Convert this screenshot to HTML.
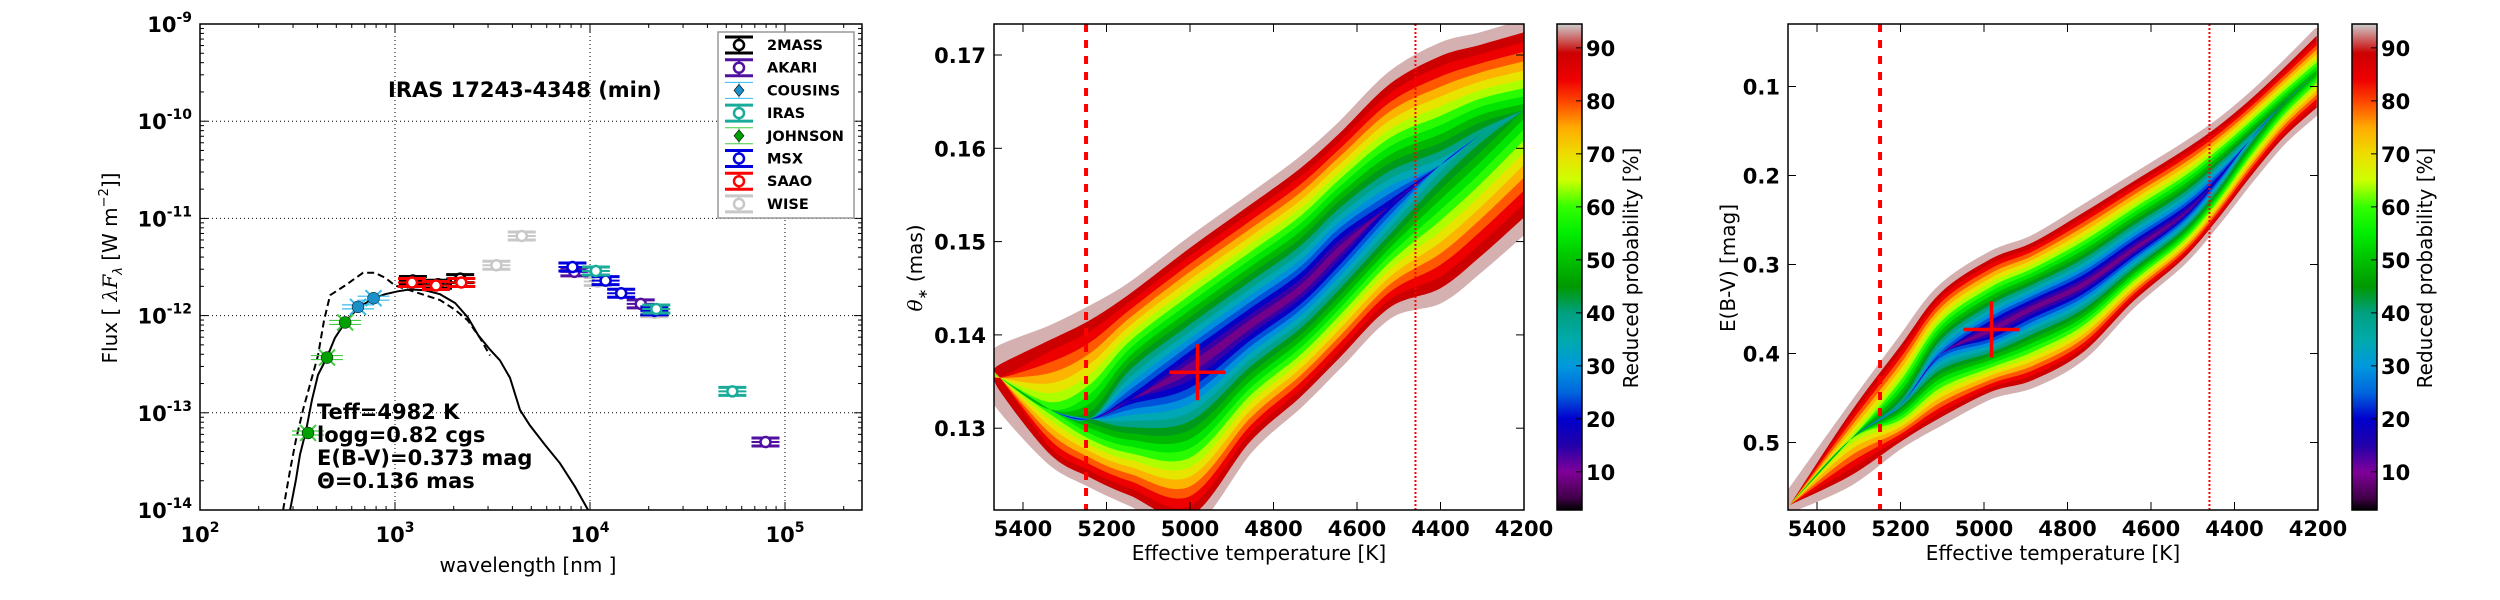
<!DOCTYPE html>
<html><head><meta charset="utf-8"><style>
html,body{margin:0;padding:0;background:#fff;}
svg{display:block;font-family:"DejaVu Sans","Liberation Sans",sans-serif;}
</style></head><body>
<svg id="fig" width="2500" height="600" viewBox="0 0 2500 600" xmlns="http://www.w3.org/2000/svg">
<defs>
<clipPath id="clipA"><rect x="200" y="24" width="662" height="486"/></clipPath>
<clipPath id="clipB"><rect x="994" y="24" width="530" height="486"/></clipPath>
<clipPath id="clipC"><rect x="1788" y="24" width="530" height="486"/></clipPath>
<linearGradient id="cbgrad" x1="0" y1="0" x2="0" y2="1"></linearGradient>
</defs>
<g id="sed"></g>
<g id="pt"></g>
<g id="pe"></g>
</svg>
<script>
// ---------- SED panel data ----------
const johnsonWl = [358, 448, 555];
const johnsonFlux = [6.2e-14, 3.7e-13, 8.5e-13];
const cousinsWl = [646, 776];
const cousinsFlux = [1.23e-12, 1.51e-12];
const saaoWl = [1222, 1622, 2188];
const saaoFlux = [2.19e-12, 2.04e-12, 2.19e-12];
const twomassWl = [1235, 1662, 2159];
const twomassFlux = [2.3e-12, 2.1e-12, 2.4e-12];
const wiseWl = [3311, 4467, 10965, 21380];
const wiseFlux = [3.3e-12, 6.6e-12, 2.24e-12, 1.07e-12];
const msxWl = [8128, 12020, 14450, 21380];
const msxFlux = [3.16e-12, 2.29e-12, 1.70e-12, 1.12e-12];
const akariWl = [8318, 18200, 79430];
const akariFlux = [2.82e-12, 1.32e-12, 5.0e-14];
const irasWl = [10720, 21880, 53700];
const irasFlux = [2.88e-12, 1.17e-12, 1.66e-13];
const modelLogWl = [2.462,2.492,2.513,2.544,2.574,2.605,2.651,2.692,2.744,2.810,2.892,2.949,3.015,3.077,3.154,3.231,3.308,3.374,3.426,3.487,3.538,3.590,3.641,3.692,3.769,3.846,3.923,3.990];
const modelLogFlux = [-14.0,-13.69,-13.43,-13.18,-12.87,-12.61,-12.43,-12.23,-12.07,-11.92,-11.82,-11.78,-11.75,-11.73,-11.74,-11.78,-11.87,-12.02,-12.20,-12.35,-12.46,-12.64,-12.97,-13.13,-13.33,-13.52,-13.76,-14.0];
const reddenedLogWl = [2.426,2.462,2.492,2.528,2.564,2.605,2.636,2.667,2.744,2.836,2.897,2.949,3.0,3.077,3.154,3.231,3.308,3.374,3.436,3.487];
const reddenedLogFlux = [-14.0,-13.59,-13.28,-12.97,-12.71,-12.41,-12.05,-11.79,-11.69,-11.56,-11.56,-11.61,-11.69,-11.74,-11.79,-11.84,-11.94,-12.05,-12.23,-12.41];
const sedYTicks = [-9,-10,-11,-12,-13,-14];
const sedXTicks = [2,3,4,5];
const legendLabels = ['2MASS','AKARI','COUSINS','IRAS','JOHNSON','MSX','SAAO','WISE'];

// ---------- Teff-theta density data ----------
const thTeff = [5470,5455,5335,5240,5144,5000,4856,4737,4641,4521,4401,4305,4200];
const thCenter = [0.1360,0.1354,0.1320,0.1310,0.1330,0.1365,0.1411,0.1448,0.1491,0.1539,0.1582,0.1614,0.1641];
const thUpper = [0.1374,0.1386,0.1407,0.1428,0.1453,0.1502,0.1548,0.1587,0.1625,0.1679,0.1710,0.1721,0.1735];
const thLower = [0.1340,0.1322,0.1264,0.1240,0.1220,0.1195,0.1277,0.1325,0.1368,0.1421,0.1437,0.1470,0.1511];
const thDepth = [92,85,55,40,15,5,5,5,5,15,30,35,45];
const thYTicks = [0.13,0.14,0.15,0.16,0.17];

// ---------- Teff-E(B-V) density data ----------
const ebTeff = [5465,5321,5201,5105,4983,4883,4763,4643,4523,4442,4363,4284,4203];
const ebCenter = [0.5702,0.4972,0.4579,0.4017,0.3736,0.3489,0.3230,0.2837,0.2444,0.2051,0.1601,0.1197,0.0848];
const ebUpper = [0.5556,0.4612,0.3848,0.3264,0.2882,0.2702,0.2365,0.2017,0.1669,0.1410,0.1107,0.0758,0.0376];
const ebLower = [0.5758,0.5455,0.5039,0.4781,0.4478,0.4354,0.4039,0.3455,0.2972,0.2534,0.2062,0.1624,0.1287];
const ebDepth = [90,60,35,20,5,5,5,5,8,15,30,40,45];
const ebYTicks = [0.1,0.2,0.3,0.4,0.5];

const teffTicks = [5400,5200,5000,4800,4600,4400,4200];
const levels = [95,90,85,80,75,70,65,60,55,50,45,40,35,30,25,20,15,10,5];
const cbTicks = [10,20,30,40,50,60,70,80,90];
const bestTeff = 4982, bestTheta = 0.136, bestEbv = 0.373;
const lineHot = 5249, lineCool = 4460;

const NS = 'http://www.w3.org/2000/svg';
function mk(parent, tag, attrs, text) {
  const e = document.createElementNS(NS, tag);
  for (const k in attrs) e.setAttribute(k, attrs[k]);
  if (text !== undefined) e.textContent = text;
  parent.appendChild(e);
  return e;
}
const cmapStops = [[2.8,'#000000'],[5,'#400048'],[10,'#800099'],[15,'#2200aa'],[20,'#0000cc'],[25,'#0066dd'],[30,'#0099dd'],[35,'#00aaaa'],[40,'#00a080'],[45,'#009900'],[50,'#00c000'],[55,'#00ee00'],[60,'#33ff00'],[65,'#ccff00'],[70,'#eedd00'],[75,'#ffaa00'],[80,'#ff4400'],[84,'#ee0000'],[89,'#cc0000'],[94.5,'#cccccc']];
function hex2rgb(h){return [parseInt(h.substr(1,2),16),parseInt(h.substr(3,2),16),parseInt(h.substr(5,2),16)];}
function cmap(v){
  if (v<=cmapStops[0][0]) return cmapStops[0][1];
  for (let i=1;i<cmapStops.length;i++){
    if (v<=cmapStops[i][0]){
      const a=cmapStops[i-1], b=cmapStops[i], t=(v-a[0])/(b[0]-a[0]);
      const ca=hex2rgb(a[1]), cb=hex2rgb(b[1]);
      return 'rgb('+ca.map((c,j)=>Math.round(c+(cb[j]-c)*t)).join(',')+')';
    }
  }
  return cmapStops[cmapStops.length-1][1];
}
const grad = document.getElementById('cbgrad');
for (let i=cmapStops.length-1;i>=0;i--){
  mk(grad,'stop',{offset:((94.5-cmapStops[i][0])/91.7).toFixed(4),'stop-color':cmapStops[i][1]});
}
function smooth(pts){
  let d='';
  for (let i=0;i<pts.length-1;i++){
    const p0=pts[Math.max(0,i-1)],p1=pts[i],p2=pts[i+1],p3=pts[Math.min(pts.length-1,i+2)];
    const c1=[p1[0]+(p2[0]-p0[0])/6,p1[1]+(p2[1]-p0[1])/6];
    const c2=[p2[0]-(p3[0]-p1[0])/6,p2[1]-(p3[1]-p1[1])/6];
    d+=' C'+c1[0].toFixed(1)+','+c1[1].toFixed(1)+' '+c2[0].toFixed(1)+','+c2[1].toFixed(1)+' '+p2[0].toFixed(1)+','+p2[1].toFixed(1);
  }
  return d;
}
const BOLD = {'font-weight':'bold','font-size':'21'};

// ================= SED PANEL =================
(function(){
  const g = document.getElementById('sed');
  const X0=200,X1=862,Y0=24,Y1=510;
  const xl = l => X0 + 195*(Math.log10(l)-2);
  const xlog = lg => X0 + 195*(lg-2);
  const ylog = lf => Y0 + 97.2*(-9-lf);
  const yf = f => ylog(Math.log10(f));
  sedXTicks.forEach(t=>{ if(t>2){ const gl=mk(g,'line',{x1:xlog(t),x2:xlog(t),y1:Y0,y2:Y1,stroke:'#000','stroke-width':1,'stroke-dasharray':'1,3'});
      }});
  sedYTicks.forEach(t=>{ if(t<-9 && t>-14){ const gl=mk(g,'line',{x1:X0,x2:X1,y1:ylog(t),y2:ylog(t),stroke:'#000','stroke-width':1,'stroke-dasharray':'1,3'});
      }});
  for (let d=2; d<=5; d++){
    for (let m=1;m<10;m++){
      const lg = d+Math.log10(m); const x=xlog(lg); if (x>X1) break;
      const len = m===1?8:4;
      mk(g,'line',{x1:x,x2:x,y1:Y1,y2:Y1-len,stroke:'#000','stroke-width':1});
      mk(g,'line',{x1:x,x2:x,y1:Y0,y2:Y0+len,stroke:'#000','stroke-width':1});
    }
  }
  for (let d=-14; d<-9; d++){
    for (let m=1;m<10;m++){
      const y=ylog(d+Math.log10(m)); const len=m===1?8:4;
      mk(g,'line',{x1:X0,x2:X0+len,y1:y,y2:y,stroke:'#000','stroke-width':1});
      mk(g,'line',{x1:X1,x2:X1-len,y1:y,y2:y,stroke:'#000','stroke-width':1});
    }
  }
  sedYTicks.forEach(t=>{
    const tx=mk(g,'text',Object.assign({x:192,y:ylog(t)+8,'text-anchor':'end'},BOLD));
     
    mk(tx,'tspan',{},'10'); mk(tx,'tspan',{'font-size':'14',dy:'-10'},String(t));
  });
  sedXTicks.forEach(t=>{
    const tx=mk(g,'text',Object.assign({x:xlog(t),y:542,'text-anchor':'middle'},BOLD));
     
    mk(tx,'tspan',{},'10'); mk(tx,'tspan',{'font-size':'14',dy:'-10'},String(t));
  });
  const xlab=mk(g,'text',{x:528,y:572,'text-anchor':'middle','font-size':'20'},'wavelength [nm ]');
   
  const ylab=mk(g,'text',{x:0,y:0,'text-anchor':'middle','font-size':'20',transform:'translate(117,268) rotate(-90)'});
   
  mk(ylab,'tspan',{},'Flux [ '); mk(ylab,'tspan',{'font-style':'italic','font-family':'DejaVu Serif, serif'},'λF');
  mk(ylab,'tspan',{'font-size':'13',dy:'5','font-style':'italic'},'λ'); mk(ylab,'tspan',{dy:'-5'},' [W  m');
  mk(ylab,'tspan',{'font-size':'13',dy:'-9'},'−2'); mk(ylab,'tspan',{dy:'9'},']]');
  const ttl=mk(g,'text',{x:388,y:97,'font-weight':'bold','font-size':'21'},'IRAS 17243-4348 (min)');
   
  const cg = mk(g,'g',{'clip-path':'url(#clipA)'});
  let d1='M'+modelLogWl.map((w,i)=>xlog(w).toFixed(1)+','+ylog(modelLogFlux[i]).toFixed(1)).join(' L');
  const m1=mk(cg,'path',{d:d1,fill:'none',stroke:'#000','stroke-width':2});
   
  let d2='M'+reddenedLogWl.map((w,i)=>xlog(w).toFixed(1)+','+ylog(reddenedLogFlux[i]).toFixed(1)).join(' L');
  const m2=mk(cg,'path',{d:d2,fill:'none',stroke:'#000','stroke-width':2,'stroke-dasharray':'7,4'});
   
  function openPts(wls, fl, col, name){
    wls.forEach((w,i)=>{
      const x=xl(w), y=yf(fl[i]);
      const pg=mk(cg,'g',{});
       
      mk(pg,'line',{x1:x-14,x2:x+14,y1:y-4,y2:y-4,stroke:col,'stroke-width':3});
      mk(pg,'line',{x1:x-14,x2:x+14,y1:y+4,y2:y+4,stroke:col,'stroke-width':3});
      mk(pg,'line',{x1:x-14,x2:x+14,y1:y,y2:y,stroke:col,'stroke-width':2});
      mk(pg,'circle',{cx:x,cy:y,r:5,fill:'#fff',stroke:col,'stroke-width':2.5});
    });
  }
  function filledPts(wls, fl, col, lc, name){
    wls.forEach((w,i)=>{
      const x=xl(w), y=yf(fl[i]);
      const pg=mk(cg,'g',{});
       
      mk(pg,'line',{x1:x-16,x2:x+16,y1:y-2,y2:y-2,stroke:lc,'stroke-width':1.2});
      mk(pg,'line',{x1:x-16,x2:x+16,y1:y+2,y2:y+2,stroke:lc,'stroke-width':1.2});
      mk(pg,'line',{x1:x-8,x2:x+8,y1:y-8,y2:y+8,stroke:lc,'stroke-width':2});
      mk(pg,'line',{x1:x-8,x2:x+8,y1:y+8,y2:y-8,stroke:lc,'stroke-width':2});
      mk(pg,'circle',{cx:x,cy:y,r:6,fill:col,stroke:'#000','stroke-width':0.5});
    });
  }
  openPts(twomassWl, twomassFlux, '#000', 'twomass');
  openPts(saaoWl, saaoFlux, '#ff0000', 'saao');
  openPts(wiseWl, wiseFlux, '#c8c8c8', 'wise');
  openPts(akariWl, akariFlux, '#5010a0', 'akari');
  openPts(msxWl, msxFlux, '#0000dd', 'msx');
  openPts(irasWl, irasFlux, '#1aab9b', 'iras');
  filledPts(johnsonWl, johnsonFlux, '#00a000', '#44cc44', 'johnson');
  filledPts(cousinsWl, cousinsFlux, '#1a8fc8', '#33bbee', 'cousins');
  const params=['Teff=4982 K','logg=0.82 cgs','E(B-V)=0.373 mag','Θ=0.136 mas'];
  const pt=mk(g,'text',{x:317,y:419,'font-weight':'bold','font-size':'21'});
   
  params.forEach((p,i)=>mk(pt,'tspan',{x:317,dy:i?23:0},p));
  const lg=mk(g,'g',{});
   
  mk(lg,'rect',{x:718,y:32,width:136,height:186,fill:'#fff',stroke:'#999','stroke-width':1.5});
  const lcols=['#000','#5010a0','#33bbee','#1aab9b','#44cc44','#0000dd','#ff0000','#c8c8c8'];
  const lfill=['#fff','#fff','#1a8fc8','#fff','#00a000','#fff','#fff','#fff'];
  legendLabels.forEach((lab,i)=>{
    const y=45+i*22.7, x=739;
    const eg=mk(lg,'g',{});
     
    const thin = (i===2||i===4);
    mk(eg,'line',{x1:x-14,x2:x+14,y1:y-8,y2:y-8,stroke:lcols[i],'stroke-width':thin?1:3});
    mk(eg,'line',{x1:x-14,x2:x+14,y1:y+8,y2:y+8,stroke:lcols[i],'stroke-width':thin?1:3});
    mk(eg,'line',{x1:x,x2:x,y1:y-8,y2:y+8,stroke:lcols[i],'stroke-width':thin?1:2});
    if (thin) mk(eg,'path',{d:`M${x},${y-6} L${x+5},${y} L${x},${y+6} L${x-5},${y} Z`,fill:lfill[i],stroke:'#000','stroke-width':0.6});
    else mk(eg,'circle',{cx:x,cy:y,r:5,fill:'#fff',stroke:lcols[i],'stroke-width':2.5});
    mk(eg,'text',{x:767,y:y+5,'font-weight':'bold','font-size':'14.5'},lab);
  });
  mk(g,'rect',{x:X0,y:Y0,width:X1-X0,height:Y1-Y0,fill:'none',stroke:'#000','stroke-width':1.5});
})();

// ================= DENSITY PANELS =================
function densityPanel(gid, clip, X0, X1, yOf, yTicks, yFmt, ylabel, teffs, ctr, up, lo, depth, bestY, cbX, cbLabelX, ylabX) {
  const g=document.getElementById(gid);
  const Y0=24,Y1=510;
  const xT = T => 1023 + (X0-994) + (5400-T)/200*83.5;
  const dg=mk(g,'g',{'clip-path':'url('+clip+')'});
  levels.forEach(L=>{
    const upPts=[], loPts=[];
    let any=false;
    teffs.forEach((T,i)=>{
      const f = L<=depth[i] ? 0 : Math.pow((L-depth[i])/(95-depth[i]),1.15);
      if (f>0) any=true;
      const x=xT(T);
      upPts.push([x, yOf(ctr[i]+(up[i]-ctr[i])*f)]);
      loPts.push([x, yOf(ctr[i]+(lo[i]-ctr[i])*f)]);
    });
    if (!any) return;
    loPts.reverse();
    const d='M'+upPts[0][0].toFixed(1)+','+upPts[0][1].toFixed(1)+smooth(upPts)+' L'+loPts[0][0].toFixed(1)+','+loPts[0][1].toFixed(1)+smooth(loPts)+' Z';
    const col = L===95 ? '#d4b0b0' : cmap(Math.max(8, L-1));
    const p=mk(dg,'path',{d:d,fill:col,stroke:L===95?col:'none','stroke-width':L===95?6:0,'stroke-linejoin':'round'});
     
  });
  const v1=mk(dg,'line',{x1:xT(lineHot),x2:xT(lineHot),y1:Y0,y2:Y1,stroke:'#ff0000','stroke-width':4,'stroke-dasharray':'8,8'});
   
  const v2=mk(dg,'line',{x1:xT(lineCool),x2:xT(lineCool),y1:Y0,y2:Y1,stroke:'#ff0000','stroke-width':2,'stroke-dasharray':'2,2'});
   
  const bx=xT(bestTeff), by=yOf(bestY);
  const cr=mk(dg,'g',{});
   
  mk(cr,'line',{x1:bx-28,x2:bx+28,y1:by,y2:by,stroke:'#ff0000','stroke-width':3.5});
  mk(cr,'line',{x1:bx,x2:bx,y1:by-28,y2:by+28,stroke:'#ff0000','stroke-width':3.5});
  teffTicks.forEach(T=>{
    const x=xT(T);
    mk(g,'line',{x1:x,x2:x,y1:Y1,y2:Y1-8,stroke:'#000','stroke-width':1});
    mk(g,'line',{x1:x,x2:x,y1:Y0,y2:Y0+8,stroke:'#000','stroke-width':1});
    const t=mk(g,'text',Object.assign({x:x,y:536,'text-anchor':'middle'},BOLD),String(T));
     
  });
  yTicks.forEach(v=>{
    const y=yOf(v);
    mk(g,'line',{x1:X0,x2:X0+8,y1:y,y2:y,stroke:'#000','stroke-width':1});
    mk(g,'line',{x1:X1,x2:X1-8,y1:y,y2:y,stroke:'#000','stroke-width':1});
    const t=mk(g,'text',Object.assign({x:X0-8,y:y+8,'text-anchor':'end'},BOLD),yFmt(v));
     
  });
  mk(g,'rect',{x:X0,y:Y0,width:X1-X0,height:Y1-Y0,fill:'none',stroke:'#000','stroke-width':1.5});
  const xl=mk(g,'text',{x:(X0+X1)/2,y:560,'text-anchor':'middle','font-size':'20'},'Effective temperature [K]');
   
  const yl=mk(g,'text',{x:0,y:0,'text-anchor':'middle','font-size':'20',transform:'translate('+ylabX+',268) rotate(-90)'});
   
  ylabel(yl);
  const cb=mk(g,'g',{});
   
  mk(cb,'rect',{x:cbX,y:Y0,width:25,height:Y1-Y0,fill:'url(#cbgrad)',stroke:'#000','stroke-width':1.5});
  const cy = v => Y0 + (94.5-v)/91.7*(Y1-Y0);
  cbTicks.forEach(v=>{
    mk(cb,'line',{x1:cbX+25,x2:cbX+19,y1:cy(v),y2:cy(v),stroke:'#000','stroke-width':1});
    const t=mk(cb,'text',Object.assign({x:cbX+29,y:cy(v)+8},BOLD),String(v));
     
  });
  const cl=mk(cb,'text',{x:0,y:0,'text-anchor':'middle','font-size':'20',transform:'translate('+cbLabelX+',268) rotate(-90)'},'Reduced probability [%]');
   
}
densityPanel('pt','#clipB',994,1524, v=>55+(0.17-v)*9330, thYTicks, v=>v.toFixed(2),
  el=>{ mk(el,'tspan',{'font-style':'italic','font-family':'DejaVu Serif, serif'},'θ'); mk(el,'tspan',{'font-size':'13',dy:'5'},'∗'); mk(el,'tspan',{dy:'-5'},' (mas)'); },
  thTeff, thCenter, thUpper, thLower, thDepth, bestTheta, 1557, 1638, 922);
densityPanel('pe','#clipC',1788,2318, v=>86.5+(v-0.1)*890, ebYTicks, v=>v.toFixed(1),
  el=>{ el.textContent='E(B-V) [mag]'; },
  ebTeff, ebCenter, ebUpper, ebLower, ebDepth, bestEbv, 2352, 2432, 1735);
</script>
</body></html>
